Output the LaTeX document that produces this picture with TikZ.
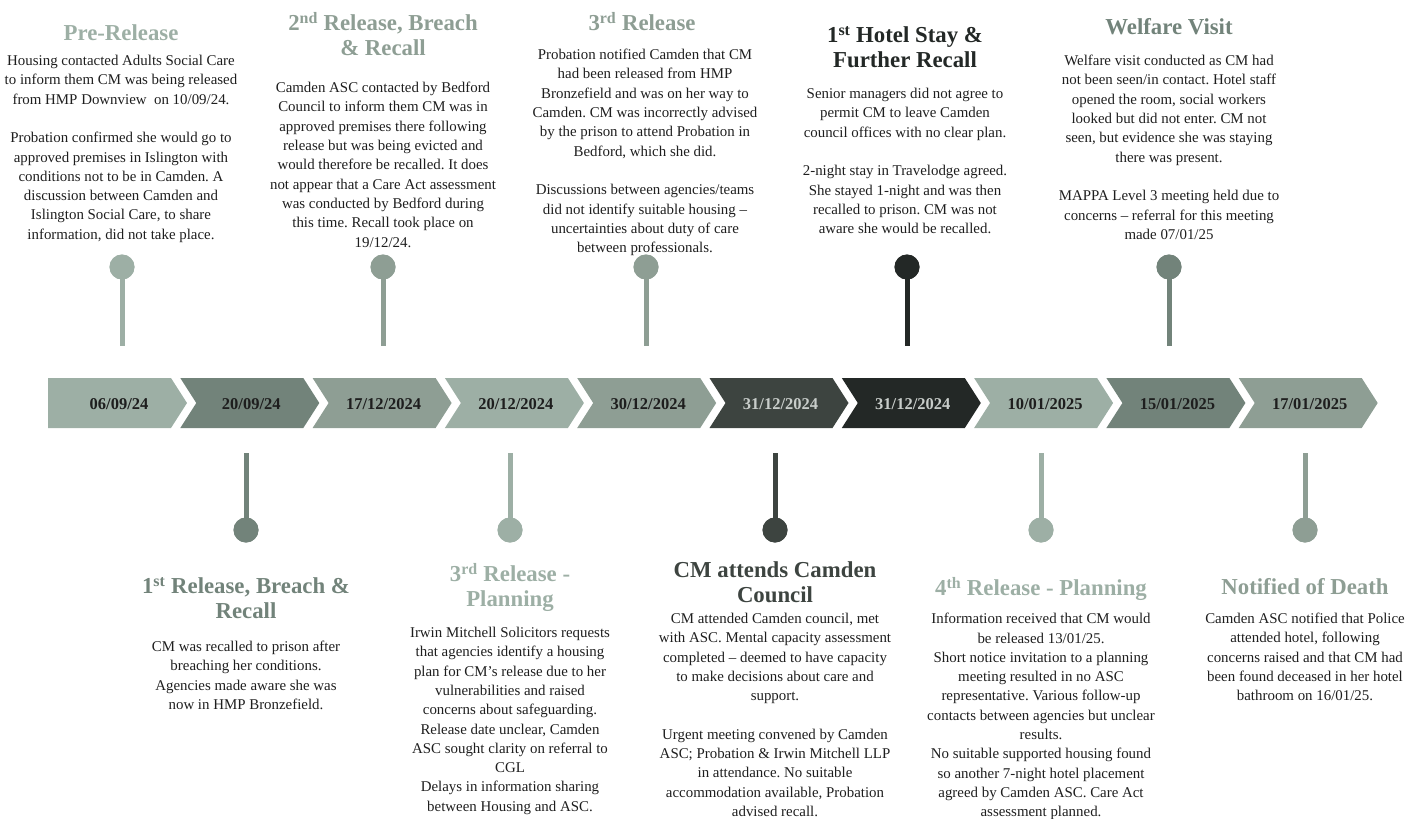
\documentclass[tikz,border=0pt]{standalone}
\usepackage{fontspec}
\setmainfont{Liberation Serif}
\frenchspacing
\definecolor{cA}{HTML}{9DAFA5}
\definecolor{cB}{HTML}{72837A}
\definecolor{cC}{HTML}{8E9E94}
\definecolor{cD}{HTML}{3D4440}
\definecolor{cE}{HTML}{232826}
\definecolor{txt}{HTML}{1E1E1E}
\definecolor{lt}{HTML}{C8CDCA}
\begin{document}
\begin{tikzpicture}[x=1pt,y=-1pt,
  body/.style={anchor=north,align=center,text=txt,inner sep=0pt,font=\fontsize{14.9}{19.3}\selectfont},
  ttl/.style={anchor=north,align=center,inner sep=0pt,font=\fontsize{22.8}{25}\selectfont\bfseries},
  datelbl/.style={anchor=center,inner sep=0pt,font=\fontsize{16.5}{18}\selectfont\bfseries},
  pinhead/.style={circle,fill=#1,minimum size=25pt,inner sep=0pt},
  stem/.style={draw=#1,line width=5pt}]
\useasboundingbox (0,0) rectangle (1422,819);
% chevrons
\def\chev#1#2#3#4{%
  \pgfmathsetmacro{\xx}{48+132.3*#1}
  \ifnum#1=0
    \fill[#2] (\xx,378) -- (\xx+123,378) -- (\xx+139,403) -- (\xx+123,428) -- (\xx,428) -- cycle;
  \else
    \fill[#2] (\xx,378) -- (\xx+123,378) -- (\xx+139,403) -- (\xx+123,428) -- (\xx,428) -- (\xx+16,403) -- cycle;
  \fi
  \node[datelbl,text=#3] (d#1) at (\xx+71,404) {#4};}
\chev{0}{cA}{txt}{06/09/24}
\chev{1}{cB}{txt}{20/09/24}
\chev{2}{cC}{txt}{17/12/2024}
\chev{3}{cA}{txt}{20/12/2024}
\chev{4}{cC}{txt}{30/12/2024}
\chev{5}{cD}{lt}{31/12/2024}
\chev{6}{cE}{lt}{31/12/2024}
\chev{7}{cA}{txt}{10/01/2025}
\chev{8}{cB}{txt}{15/01/2025}
\chev{9}{cC}{txt}{17/01/2025}
% top pins
\foreach \n/\x/\c in {1/122/cA,2/383/cC,3/646/cC,4/907/cE,5/1169/cB}{
  \coordinate (ts\n) at (\x,346);
  \node[pinhead=\c] (tp\n) at (\x,267) {};
  \draw[stem=\c] (tp\n.center) -- (ts\n);
  \node[pinhead=\c] at (\x,267) {};
}
% bottom pins
\foreach \n/\x/\c in {1/246/cB,2/510/cA,3/775/cD,4/1041/cA,5/1305/cC}{
  \coordinate (bs\n) at (\x,453);
  \node[pinhead=\c] (bp\n) at (\x,530) {};
  \draw[stem=\c] (bs\n) -- (bp\n.center);
  \node[pinhead=\c] at (\x,530) {};
}
% top titles
\node[ttl,text=cA] (t1) at (121,24) {Pre-Release};
\node[ttl,text=cC] (t2) at (383,12) {2\textsuperscript{nd} Release, Breach\\ \& Recall};
\node[ttl,text=cC] (t3) at (642,12) {3\textsuperscript{rd} Release};
\node[ttl,text=cE] (t4) at (905,26) {1\textsuperscript{st} Hotel Stay \&\\ Further Recall};
\node[ttl,text=cB] (t5) at (1169,18) {Welfare Visit};
% top bodies
\node[body] (b1) at (121,55) {Housing contacted Adults Social Care\\ to inform them CM was being released\\ from HMP Downview~ on 10/09/24.\\[19.3pt] Probation confirmed she would go to\\ approved premises in Islington with\\ conditions not to be in Camden. A\\ discussion between Camden and\\ Islington Social Care, to share\\ information, did not take place.};
\node[body] (b2) at (383,82) {Camden ASC contacted by Bedford\\ Council to inform them CM was in\\ approved premises there following\\ release but was being evicted and\\ would therefore be recalled. It does\\ not appear that a Care Act assessment\\ was conducted by Bedford during\\ this time. Recall took place on\\ 19/12/24.};
\node[body] (b3) at (645,49) {Probation notified Camden that CM\\ had been released from HMP\\ Bronzefield and was on her way to\\ Camden. CM was incorrectly advised\\ by the prison to attend Probation in\\ Bedford, which she did.\\[19.3pt] Discussions between agencies/teams\\ did not identify suitable housing --\\ uncertainties about duty of care\\ between professionals.};
\node[body] (b4) at (905,88) {Senior managers did not agree to\\ permit CM to leave Camden\\ council offices with no clear plan.\\[19.3pt] 2-night stay in Travelodge agreed.\\ She stayed 1-night and was then\\ recalled to prison. CM was not\\ aware she would be recalled.};
\node[body] (b5) at (1169,55) {Welfare visit conducted as CM had\\ not been seen/in contact. Hotel staff\\ opened the room, social workers\\ looked but did not enter. CM not\\ seen, but evidence she was staying\\ there was present.\\[19.3pt] MAPPA Level 3 meeting held due to\\ concerns -- referral for this meeting\\ made 07/01/25};
% bottom titles
\node[ttl,text=cB] (u1) at (246,577) {1\textsuperscript{st} Release, Breach \&\\ Recall};
\node[ttl,text=cA] (u2) at (510,563) {3\textsuperscript{rd} Release -\\ Planning};
\node[ttl,text=cD] (u3) at (775,561) {CM attends Camden\\ Council};
\node[ttl,text=cA] (u4) at (1041,577) {4\textsuperscript{th} Release - Planning};
\node[ttl,text=cC] (u5) at (1305,578) {Notified of Death};
% bottom bodies
\node[body] (v1) at (246,641) {CM was recalled to prison after\\ breaching her conditions.\\ Agencies made aware she was\\ now in HMP Bronzefield.};
\node[body] (v2) at (510,627) {Irwin Mitchell Solicitors requests\\ that agencies identify a housing\\ plan for CM's release due to her\\ vulnerabilities and raised\\ concerns about safeguarding.\\ Release date unclear, Camden\\ ASC sought clarity on referral to\\ CGL\\ Delays in information sharing\\ between Housing and ASC.};
\node[body] (v3) at (775,613) {CM attended Camden council, met\\ with ASC. Mental capacity assessment\\ completed -- deemed to have capacity\\ to make decisions about care and\\ support.\\[19.3pt] Urgent meeting convened by Camden\\ ASC; Probation \& Irwin Mitchell LLP\\ in attendance. No suitable\\ accommodation available, Probation\\ advised recall.};
\node[body] (v4) at (1041,613) {Information received that CM would\\ be released 13/01/25.\\ Short notice invitation to a planning\\ meeting resulted in no ASC\\ representative. Various follow-up\\ contacts between agencies but unclear\\ results.\\ No suitable supported housing found\\ so another 7-night hotel placement\\ agreed by Camden ASC. Care Act\\ assessment planned.};
\node[body] (v5) at (1305,613) {Camden ASC notified that Police\\ attended hotel, following\\ concerns raised and that CM had\\ been found deceased in her hotel\\ bathroom on 16/01/25.};
\end{tikzpicture}
\end{document}
